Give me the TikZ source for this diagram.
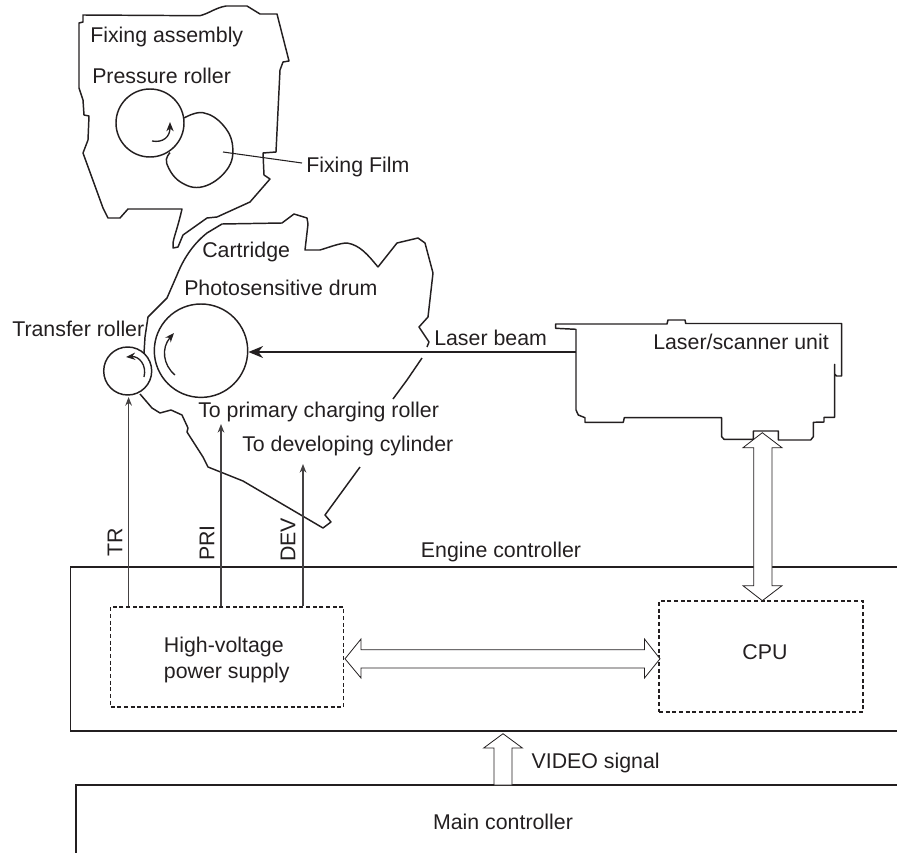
\documentclass[tikz,border=0pt]{standalone}
\usepackage{fontspec}
\setmainfont{Liberation Sans}
\usetikzlibrary{arrows.meta,positioning}
\definecolor{ink}{HTML}{231F20}
\tikzset{
  outline/.style={ink,line width=1.1pt,line join=round},
  wall/.style={ink,line width=1.1pt},
  dashbox/.style={ink,line width=1pt,dash pattern=on 3pt off 2pt},
  thinarrow/.style={ink!85,line width=.8pt,-{Stealth[length=6.5pt,width=5pt]}},
  turnarrow/.style={ink,line width=1pt,-{Stealth[length=7pt,width=5.5pt]}},
  hollow/.style={ink,line width=.6pt,fill=white,line join=miter},
  lbl/.style={ink,font=\fontsize{16}{19.5}\selectfont,inner sep=0pt}
}
\begin{document}
\begin{tikzpicture}[x=0.75pt,y=-0.75pt]
\useasboundingbox (0,0) rectangle (897,853);
% fixing assembly
\draw[outline] (83,15) -- (200,15.7) .. controls (210,13) and (215,8) .. (226,6) -- (247,6) -- (260,14) -- (277,14) -- (289,61) -- (283,62) -- (280,70) -- (276,152) -- (263,153) -- (264,175) -- (270,179) -- (250,202) -- (217,217) -- (207,218) -- (183,235) -- (178,247) -- (173,248) .. controls (172,240) and (176,235) .. (182,209) -- (128,209) -- (120,218) -- (108,218) -- (103,208) -- (83,153) -- (88,140) -- (89,116) -- (84,115) -- (83,100) -- (79,88) -- (79,23) -- (83,22) -- cycle;
\node[circle,draw=ink,line width=1.1pt,minimum size=68pt*.75,inner sep=0pt] (pressure) at (150,123) {};
\draw[outline] plot[smooth,tension=.7] coordinates {(184,118) (203,112.7) (223,125) (232.7,146.7) (226.7,170) (203,186.7) (180,181.7) (166.7,163.3) (170,152.7)};
\draw[turnarrow] (152,141) .. controls (163,143) and (170,137) .. (170,122);
\coordinate (filmpoint) at (223,152);
\coordinate (filmend) at (302,163);
\node[lbl,anchor=west] (filmlabel) at (306,167) {Fixing Film};
\draw[ink,line width=.8pt] (filmpoint) -- (filmend);
\node[lbl,anchor=west] (fixinglabel) at (90,37) {Fixing assembly};
\node[lbl,anchor=west] (pressurelabel) at (92,76) {Pressure roller};
% cartridge
\draw[outline] (144,353) -- (145,337) -- (148,317) -- (167,298) -- (177,275) .. controls (183,260) and (192,245) .. (207,233) -- (222,224) -- (282,223) -- (294,214) -- (307,218) -- (308,224) -- (305,250) -- (320,250) .. controls (330,247) and (340,243) .. (347,243) .. controls (360,245) and (368,255) .. (378,267) -- (397,243) -- (418,238) -- (425,243) -- (433,273) -- (428,317) -- (419,327) -- (429,342) -- (427,347);
\draw[outline] (422,358) -- (407,380) -- (393,399);
\draw[outline] (360,467) -- (325,515) -- (331,522) -- (323,528) -- (243,481) -- (208,467) -- (203,457) -- (187,432) -- (188,428) -- (182,415) -- (171,410) -- (160,413) -- (152,408) -- (140,394);
\node[circle,draw=ink,line width=1.1pt,minimum size=48pt*.75,inner sep=0pt] (transfer) at (127.7,371) {};
\node[circle,draw=ink,line width=1.1pt,minimum size=93.4pt*.75,inner sep=0pt] (drum) at (201,350.7) {};
\draw[turnarrow] (175,375) .. controls (163,365) and (161,348) .. (174,333);
\draw[turnarrow] (144,377) .. controls (147,365) and (139,356) .. (126,357);
\node[lbl,anchor=west] (cartridgelabel) at (202,252) {Cartridge};
\node[lbl,anchor=west] (drumlabel) at (184,288) {Photosensitive drum};
\node[lbl,anchor=west] (transferlabel) at (12,329) {Transfer roller};
\node[lbl,anchor=west] (primarylabel) at (198,412) {To primary charging roller};
\node[lbl,anchor=west] (developlabel) at (242,446) {To developing cylinder};
% laser unit
\draw[outline] (555.7,324) -- (667,324) -- (668,320) -- (685,320) -- (685.7,323.5) -- (841.7,323.5) -- (841.7,376) -- (836.7,376) -- (834.7,374) -- (834.7,364.3) -- (834.7,417.3) -- (824,417.3) -- (824,422) -- (813.3,422.3) -- (813.3,436.7) -- (810.7,440) -- (778.3,440) -- (778.3,431) -- (753.3,431) -- (753.3,439.3) -- (724,439.3) -- (721.7,436.7) -- (721.7,417.7) -- (624.3,417.7) -- (623.3,422.3) -- (585,422.3) -- (585,417.7) -- (578.3,415) -- (576,410) -- (576,329.3) -- (555.7,328.3) -- cycle;
\node[lbl,anchor=west] (laserlabel) at (653,342) {Laser/scanner unit};
\coordinate (laserleft) at (576,352);
\draw[ink,line width=1.1pt,-{Stealth[length=11pt,width=9pt]}] (laserleft) -- (drum.east |- laserleft);
\node[lbl,anchor=west] (beamlabel) at (434,338) {Laser beam};
% controllers
\coordinate (engineTR) at (897,567);
\coordinate (engineBR) at (897,731);
\draw[wall] (engineTR) -- (70.6,567) -- (70.6,731) -- (engineBR);
\node[lbl] (enginelabel) at (501,552) {Engine controller};
\coordinate (mainTR) at (897,785);
\draw[wall] (mainTR) -- (76,785) -- (76,853);
\node[lbl] (mainlabel) at (503,821.7) {Main controller};
\node[draw=ink,dashbox,minimum width=233pt*.75,minimum height=100.3pt*.75,inner sep=0pt] (hvbox) at (227,657) {};
\node[lbl,align=left,anchor=west] (hvlabel) at (163.7,659.7) {High-voltage\\power supply};
\node[draw=ink,dashbox,minimum width=204pt*.75,minimum height=111pt*.75,inner sep=0pt] (cpubox) at (761,656.5) {};
\node[lbl] (cpulabel) at (765,652) {CPU};
% high voltage lines
\coordinate (trtop) at (128.6,397);
\coordinate (pritop) at (221,424);
\coordinate (devtop) at (303,464);
\draw[thinarrow] (hvbox.north -| trtop) -- (trtop);
\draw[thinarrow] (hvbox.north -| pritop) -- (pritop);
\draw[thinarrow] (hvbox.north -| devtop) -- (devtop);
\node[lbl,rotate=90,anchor=west] (trlabel) at (115,557) {TR};
\node[lbl,rotate=90,anchor=west] (prilabel) at (207,561) {PRI};
\node[lbl,rotate=90,anchor=west] (devlabel) at (288,562) {DEV};
% hollow arrows
\draw[hollow] (762.3,432.7) -- (782,447.7) -- (772,447.7) -- (772,585.7) -- (782,585.7) -- (762.3,600.7) -- (743,585.7) -- (753.7,585.7) -- (753.7,447.7) -- (743,447.7) -- cycle;
\draw[hollow] (345,658.8) -- (361,639) -- (361,649.7) -- (644.5,649.7) -- (644.5,639) -- (660,658.8) -- (644.5,678) -- (644.5,668) -- (361,668) -- (361,678) -- cycle;
\draw[hollow] (503,733.7) -- (522.4,748) -- (512,748) -- (512,785) -- (494,785) -- (494,748) -- (483.7,748) -- cycle;
\node[lbl,anchor=west] (videolabel) at (531.4,763) {VIDEO signal};
\end{tikzpicture}
\end{document}
